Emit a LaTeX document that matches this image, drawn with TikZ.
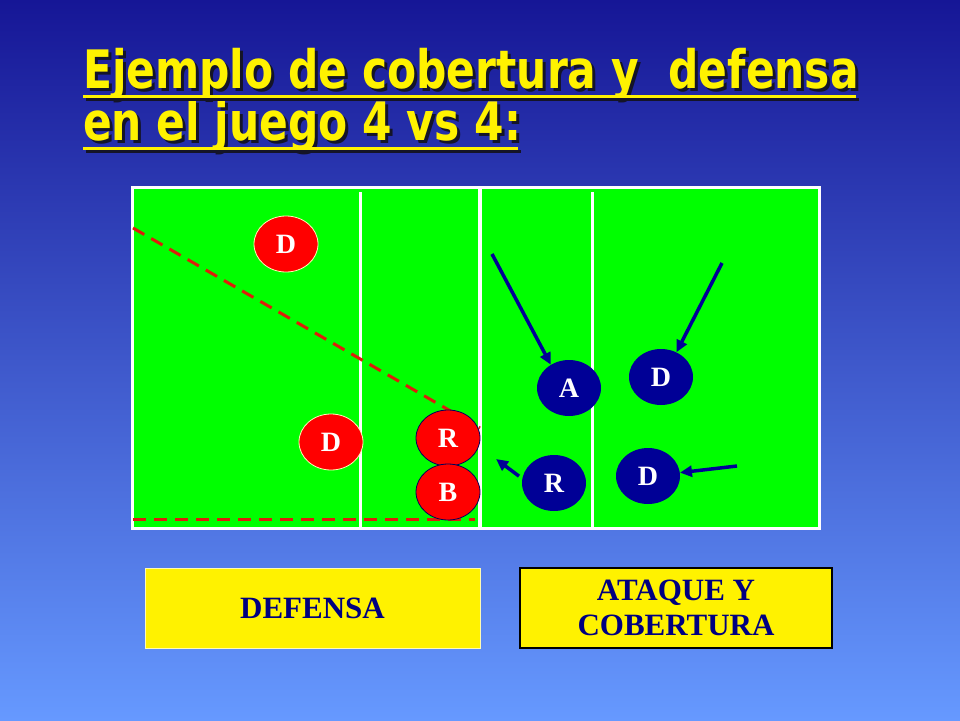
\documentclass[tikz,border=0pt]{standalone}
\usepackage{fontspec}
\setmainfont{Liberation Serif}
\newfontfamily\titlefont[FakeStretch=0.8]{DejaVu Sans}
\usetikzlibrary{shapes.geometric,arrows.meta,calc}

\definecolor{bgtop}{RGB}{22,22,150}
\definecolor{bgbot}{RGB}{102,153,255}
\definecolor{courtgreen}{RGB}{0,255,0}
\definecolor{navy}{RGB}{0,0,150}
\definecolor{txtnavy}{RGB}{0,0,128}
\definecolor{linered}{RGB}{220,30,10}
\definecolor{shadowcol}{RGB}{20,20,40}

% yellow text with a dark drop shadow
\newcommand{\shadowtext}[1]{\rlap{\hspace{3pt}\raisebox{-3pt}{\textcolor{shadowcol}{#1}}}\textcolor{yellow}{#1}}

\tikzset{
  player/.style={ellipse, minimum width=64pt, minimum height=56pt, inner sep=0pt,
    text=white, font=\fontsize{28}{28}\selectfont\bfseries},
  redpl/.style={player, fill=red, draw=yellow!30, line width=0.8pt},
  redpl dark/.style={player, fill=red, draw=navy!60!black, line width=0.8pt},
  bluepl/.style={player, fill=navy},
  mv/.style={navy, line width=3.5pt, -{Triangle[length=12pt,width=11pt]}},
  cut/.style={linered, line width=3pt, dash pattern=on 13pt off 8pt},
  label box/.style={rectangle, fill=yellow, minimum height=80pt, inner sep=0pt,
    align=center, text=txtnavy, font=\fontsize{31}{35}\selectfont\bfseries},
  title/.style={anchor=base west, inner sep=0pt, font=\titlefont\fontsize{53}{53}\selectfont\bfseries}
}

\begin{document}
\begin{tikzpicture}[x=1pt,y=-1pt]
  \shade[top color=bgtop, bottom color=bgbot] (0,0) rectangle (960,720);
  \useasboundingbox (0,0) rectangle (960,720);

  % title
  \node[title] (t1) at (83,88) {\shadowtext{Ejemplo de cobertura y\ \ defensa}};
  \node[title] (t2) at (83,140) {\shadowtext{en el juego 4 vs 4:}};
  \draw[shadowcol, line width=3pt] ($(t1.base west)+(3,11)$) -- ($(t1.base east)+(0,11)$);
  \draw[shadowcol, line width=3pt] ($(t2.base west)+(3,11)$) -- ($(t2.base east)+(0,11)$);
  \draw[yellow, line width=3pt] ($(t1.base west)+(0,8)$) -- ($(t1.base east)+(-3,8)$);
  \draw[yellow, line width=3pt] ($(t2.base west)+(0,8)$) -- ($(t2.base east)+(-3,8)$);

  % court
  \draw[white, line width=3pt, fill=courtgreen] (132,187) rectangle (819,528);
  \draw[white, line width=4pt] (480,187) -- (480,528);
  \draw[white, line width=3pt] (360,192) -- (360,528);
  \draw[white, line width=3pt] (592,192) -- (592,528);

  \draw[cut] (133,228) -- (480,428);
  \draw[cut] (133,519) -- (475,519);

  % defending team
  \node[redpl] (d1) at (286,244) {D};
  \node[redpl] (d2) at (331,442) {D};
  \node[redpl dark] (rr) at (448,438) {R};
  \node[redpl dark] (bb) at (448,492) {B};

  % attacking team
  \node[bluepl] (atk) at (569,388) {A};
  \node[bluepl] (dtop) at (661,377) {D};
  \node[bluepl] (rb) at (554,483) {R};
  \node[bluepl] (dbot) at (648,476) {D};

  \coordinate (c1) at (492,254);
  \coordinate (c2) at (722,263);
  \coordinate (c3) at (496,459);
  \coordinate (c4) at (737,466);

  \draw[mv] (c1) -- (atk.128);
  \draw[mv] (c2) -- (dtop.58);
  \draw[mv, shorten <=4pt] (rb.172) -- (c3);
  \draw[mv] (c4) -- (dbot.6);

  % labels
  \node[label box, minimum width=335pt, draw=white!70!yellow, line width=0.8pt] (defensa) at (312.5,608) {DEFENSA};
  \node[label box, minimum width=312pt, draw=black, line width=1.2pt] (ataque) at (676,608) {ATAQUE Y\\COBERTURA};
\end{tikzpicture}
\end{document}
